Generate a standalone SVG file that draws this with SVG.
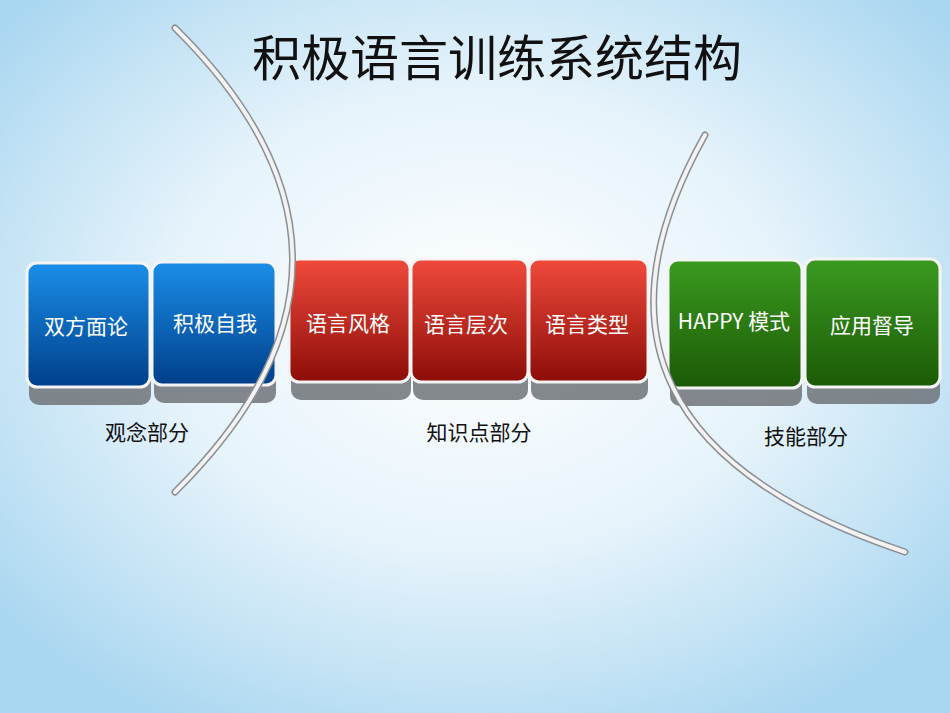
<svg xmlns="http://www.w3.org/2000/svg" width="950" height="713" viewBox="0 0 950 713">
<defs>
<radialGradient id="bg" cx="0.5" cy="0.45" r="0.65">
<stop offset="0" stop-color="#ffffff"/><stop offset="0.5" stop-color="#e6f3fb"/><stop offset="1" stop-color="#a9d6f0"/>
</radialGradient>
<linearGradient id="blue" x1="0" y1="0" x2="0" y2="1"><stop offset="0" stop-color="#1a8ee8"/><stop offset="1" stop-color="#003f8a"/></linearGradient>
<linearGradient id="red" x1="0" y1="0" x2="0" y2="1"><stop offset="0" stop-color="#f04a3c"/><stop offset="1" stop-color="#8c0d08"/></linearGradient>
<linearGradient id="green" x1="0" y1="0" x2="0" y2="1"><stop offset="0" stop-color="#3a9a20"/><stop offset="1" stop-color="#1c5a06"/></linearGradient>
</defs>
<style>
.box{stroke:#f4f4f4;stroke-width:3}
.sh{fill:#6e7378;opacity:0.85}
.t{font-family:"Noto Sans CJK SC","Liberation Sans",sans-serif;fill:#fff;font-size:21px;text-anchor:middle}
.l{font-family:"Noto Sans CJK SC","Liberation Sans",sans-serif;fill:#111;font-size:21px;text-anchor:middle}
.arc{fill:none;stroke:#8a8e92;stroke-width:7;stroke-linecap:round}
.arc2{fill:none;stroke:#f2f2f2;stroke-width:4;stroke-linecap:round}
</style>
<rect width="950" height="713" fill="url(#bg)"/>
<text x="497" y="76" font-family="Noto Sans CJK SC, sans-serif" font-size="49" fill="#111" text-anchor="middle">积极语言训练系统结构</text>
<g id="n1"><rect class="sh" x="29" y="300" width="122" height="105" rx="10"/><rect class="box" x="27" y="263" width="123" height="124" rx="10" fill="url(#blue)"/><text class="t" x="86" y="334">双方面论</text></g>
<g id="n2"><rect class="sh" x="154" y="300" width="122" height="103" rx="10"/><rect class="box" x="152" y="262" width="124" height="123" rx="10" fill="url(#blue)"/><text class="t" x="215" y="331">积极自我</text></g>
<g id="n3"><rect class="sh" x="291" y="300" width="120" height="100" rx="10"/><rect class="box" x="289" y="259" width="121" height="123" rx="10" fill="url(#red)"/><text class="t" x="348" y="331">语言风格</text></g>
<g id="n4"><rect class="sh" x="413" y="300" width="115" height="100" rx="10"/><rect class="box" x="411" y="259" width="117" height="123" rx="10" fill="url(#red)"/><text class="t" x="466" y="332">语言层次</text></g>
<g id="n5"><rect class="sh" x="531" y="300" width="117" height="100" rx="10"/><rect class="box" x="529" y="259" width="119" height="123" rx="10" fill="url(#red)"/><text class="t" x="587" y="332">语言类型</text></g>
<g id="n6"><rect class="sh" x="670" y="300" width="132" height="106" rx="10"/><rect class="box" x="668" y="260" width="134" height="128" rx="10" fill="url(#green)"/><text class="t" x="734" y="329" font-size="19">HAPPY 模式</text></g>
<g id="n7"><rect class="sh" x="807" y="300" width="133" height="104" rx="10"/><rect class="box" x="805" y="259" width="135" height="128" rx="10" fill="url(#green)"/><text class="t" x="872" y="333" font-size="23">应用督导</text></g>
<g id="connectors">
<path class="arc" d="M175 28 Q410 260 175 492"/>
<path class="arc2" d="M175 28 Q410 260 175 492"/>
<path class="arc" d="M705 135 Q540 430 905 552"/>
<path class="arc2" d="M705 135 Q540 430 905 552"/>
</g>
<g id="labels">
<text class="l" x="147" y="440">观念部分</text>
<text class="l" x="479" y="440">知识点部分</text>
<text class="l" x="806" y="444">技能部分</text>
</g>
</svg>
